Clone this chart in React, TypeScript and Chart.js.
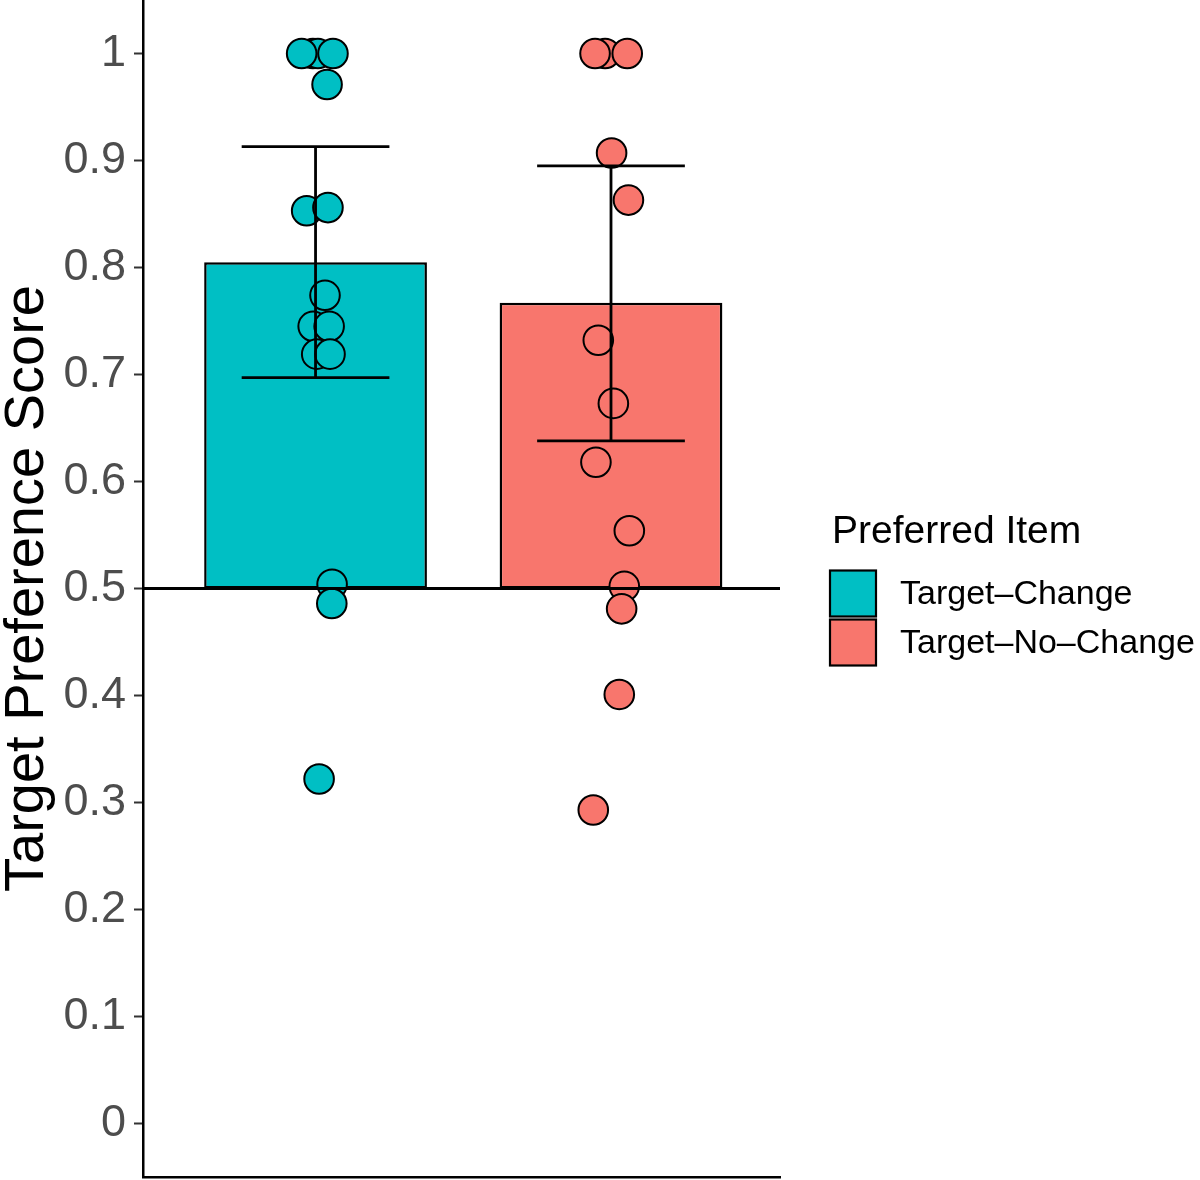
import React, { useEffect, useRef } from "react";
import { Chart, registerables } from "chart.js";

Chart.register(...registerables);

// ---------- data ----------
const LEGEND_TITLE = "Preferred Item";
const LEGEND_LABELS = ["Target–Change", "Target–No–Change"];
const GROUP_X = [1, 2];
const BAR_BASE = 0.5;
const BAR_TOPS = [0.805, 0.767];
const ERR_LOW = [0.697, 0.638];
const ERR_HIGH = [0.913, 0.895];

const CHANGE_X = [0.991, 1.008, 0.953, 1.059, 1.039, 0.97, 1.042, 1.032, 0.992, 1.046, 1.004, 1.049, 1.056, 1.055, 1.012];
const CHANGE_Y = [1, 1, 1, 1, 0.971, 0.853, 0.856, 0.774, 0.745, 0.745, 0.719, 0.719, 0.504, 0.486, 0.322];

const NOCHANGE_X = [1.98, 1.946, 2.055, 2.002, 2.059, 1.957, 2.008, 1.949, 2.062, 2.045, 2.036, 2.028, 1.94];
const NOCHANGE_Y = [1, 1, 1, 0.907, 0.863, 0.732, 0.673, 0.618, 0.554, 0.502, 0.481, 0.401, 0.293];

const Y_TICKS = [0, 0.1, 0.2, 0.3, 0.4, 0.5, 0.6, 0.7, 0.8, 0.9, 1];
const Y_TITLE = "Target Preference Score";

// ---------- styling ----------
const COLORS = ["#00BFC4", "#F8766D"];
const FONT = "'Liberation Sans', Arial, Helvetica, sans-serif";
const X_MIN = 0.416;
const X_MAX = 2.572;
const Y_MIN = -0.05;
const Y_MAX = 1.05;
const CAP_HALF = 0.25;

const overlayPlugin = {
  id: "overlay",
  afterDatasetsDraw(chart: any) {
    const { ctx, chartArea } = chart;
    const x = chart.scales.x;
    const y = chart.scales.y;
    ctx.save();
    ctx.strokeStyle = "#000";
    ctx.lineWidth = 2.8;
    ctx.lineCap = "butt";
    GROUP_X.forEach((gx, i) => {
      const cx = x.getPixelForValue(gx);
      const l = x.getPixelForValue(gx - CAP_HALF);
      const r = x.getPixelForValue(gx + CAP_HALF);
      const yl = y.getPixelForValue(ERR_LOW[i]);
      const yh = y.getPixelForValue(ERR_HIGH[i]);
      ctx.beginPath();
      ctx.moveTo(cx, yl);
      ctx.lineTo(cx, yh);
      ctx.moveTo(l, yh);
      ctx.lineTo(r, yh);
      ctx.moveTo(l, yl);
      ctx.lineTo(r, yl);
      ctx.stroke();
    });
    const yb = y.getPixelForValue(BAR_BASE);
    ctx.beginPath();
    ctx.moveTo(chartArea.left, yb);
    ctx.lineTo(chartArea.right, yb);
    ctx.stroke();
    ctx.restore();
  },
};

const legendPlugin = {
  id: "customLegend",
  afterDraw(chart: any) {
    const { ctx, chartArea } = chart;
    const cy = (chartArea.top + chartArea.bottom) / 2;
    const left = chartArea.right + 50;
    ctx.save();
    ctx.fillStyle = "#000";
    ctx.font = `39px ${FONT}`;
    ctx.textAlign = "left";
    ctx.textBaseline = "alphabetic";
    ctx.fillText(LEGEND_TITLE, left + 2, cy - 46);
    const keySize = 46;
    const keyGap = 49;
    const keyTop = cy - 18;
    LEGEND_LABELS.forEach((label, i) => {
      const ky = keyTop + i * keyGap;
      ctx.fillStyle = COLORS[i];
      ctx.fillRect(left, ky, keySize, keySize);
      ctx.strokeStyle = "#000";
      ctx.lineWidth = 2.2;
      ctx.strokeRect(left, ky, keySize, keySize);
      ctx.fillStyle = "#000";
      ctx.font = `34px ${FONT}`;
      ctx.textBaseline = "middle";
      ctx.fillText(label, left + 70, ky + keySize / 2 + 1);
    });
    ctx.restore();
  },
};

export default function App() {
  const ref = useRef<HTMLCanvasElement>(null);

  useEffect(() => {
    if (!ref.current) return;
    const chart = new Chart(ref.current, {
      type: "bar",
      data: {
        datasets: [
          {
            type: "bar",
            data: GROUP_X.map((gx, i) => ({ x: gx, y: [BAR_BASE, BAR_TOPS[i]] })) as any,
            backgroundColor: COLORS,
            borderColor: "#000",
            borderWidth: 2.5,
            borderSkipped: false,
            categoryPercentage: 1,
            barPercentage: 0.754,
            order: 3,
          } as any,
          {
            type: "scatter",
            data: CHANGE_X.map((vx, i) => ({ x: vx, y: CHANGE_Y[i] })),
            backgroundColor: COLORS[0],
            borderColor: "#000",
            borderWidth: 2,
            pointRadius: 14.8,
            pointHoverRadius: 14.8,
            order: 2,
          } as any,
          {
            type: "scatter",
            data: NOCHANGE_X.map((vx, i) => ({ x: vx, y: NOCHANGE_Y[i] })),
            backgroundColor: COLORS[1],
            borderColor: "#000",
            borderWidth: 2,
            pointRadius: 14.8,
            pointHoverRadius: 14.8,
            order: 2,
          } as any,
        ],
      },
      options: {
        responsive: false,
        devicePixelRatio: 1,
        animation: false,
        events: [],
        layout: { autoPadding: false, padding: { left: 0, top: 0, right: 420, bottom: 0 } },
        plugins: {
          legend: { display: false },
          tooltip: { enabled: false },
        },
        scales: {
          x: {
            type: "linear",
            min: X_MIN,
            max: X_MAX,
            offset: false,
            afterBuildTicks: (s: any) => {
              s.ticks = GROUP_X.map((v) => ({ value: v }));
            },
            ticks: { display: false },
            grid: { display: false, drawTicks: false, offset: false },
            border: { display: true, color: "#000", width: 2.5 },
            afterFit: (s: any) => {
              s.height = 3;
              s.paddingLeft = 0;
              s.paddingRight = 0;
            },
          } as any,
          y: {
            type: "linear",
            min: Y_MIN,
            max: Y_MAX,
            afterBuildTicks: (s: any) => {
              s.ticks = Y_TICKS.map((v) => ({ value: v }));
            },
            ticks: {
              color: "#4D4D4D",
              font: { family: FONT, size: 45 },
              padding: 8,
              callback: (v: any) => Number(Number(v).toFixed(1)).toString(),
            },
            grid: {
              drawOnChartArea: false,
              drawTicks: true,
              tickLength: 9,
              tickColor: "#333",
              tickWidth: 2,
            },
            border: { display: true, color: "#000", width: 2.5 },
            title: {
              display: true,
              text: Y_TITLE,
              color: "#000",
              font: { family: FONT, size: 56, lineHeight: 1 },
              padding: 0,
            },
            afterFit: (s: any) => {
              s.width = 143;
              s.paddingTop = 0;
              s.paddingBottom = 0;
            },
          } as any,
        },
      },
      plugins: [overlayPlugin, legendPlugin],
    });
    return () => chart.destroy();
  }, []);

  return (
    <div style={{ position: "absolute", left: 0, top: 0, width: 1200, height: 1180, background: "#fff" }}>
      <canvas ref={ref} width={1200} height={1180} style={{ display: "block", width: 1200, height: 1180 }} />
    </div>
  );
}
